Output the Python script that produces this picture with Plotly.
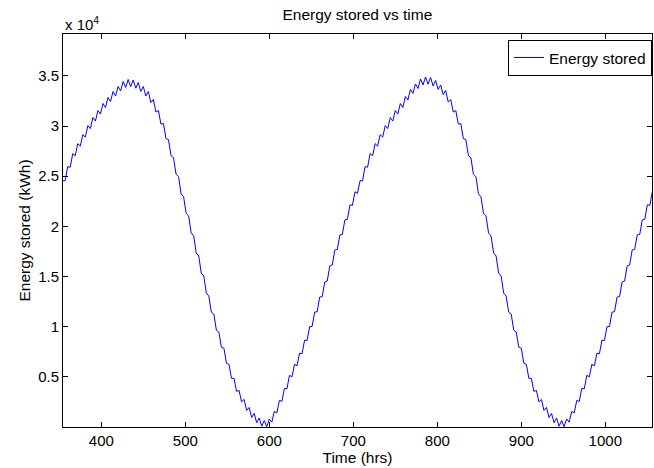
import plotly.graph_objects as go

# Sample times (hours), 3-hour spacing
hours = list(range(354, 1057, 3))

# Energy stored (kWh)
energy_stored = [
    # 354 - 705
    24550, 24550, 25950, 25900, 27250, 27050, 28250, 28000, 29150, 28900,
    30050, 29750, 30850, 30500, 31550, 31200, 32250, 31850, 32850, 32450,
    33450, 33000, 33950, 33500, 34450, 33850, 34650, 33925, 34600, 33775,
    34350, 33450, 33950, 33000, 33450, 32350, 32650, 31400, 31550, 30200,
    30250, 28750, 28650, 27050, 26850, 25200, 24950, 23250, 22950, 21300,
    21050, 19350, 19050, 17350, 17050, 15350, 15050, 13350, 13050, 11450,
    11250, 9650, 9450, 7950, 7850, 6350, 6250, 4850, 4850, 3550,
    3650, 2500, 2750, 1650, 1950, 950, 1350, 425, 900, 75,
    650, 25, 800, 475, 1550, 1400, 2650, 2550, 3850, 3800,
    5150, 5000, 6250, 6100, 7350, 7300, 8650, 8625, 10000, 10025,
    11450, 11500, 12950, 13000, 14450, 14550, 16050, 16150, 17650, 17700,
    19150, 19200, 20650, 20700, 22150, 22100, 23450, 23300,
    # 708 - 1056
    24550, 24550, 25950, 25900, 27250, 27050, 28250, 28000, 29150, 28900,
    30050, 29750, 30850, 30500, 31550, 31200, 32250, 31850, 32950, 32600,
    33650, 33250, 34200, 33750, 34700, 34100, 34900, 34175, 34850, 34000,
    34550, 33650, 34100, 33150, 33550, 32400, 32650, 31400, 31550, 30200,
    30250, 28750, 28650, 27050, 26850, 25200, 24950, 23250, 22950, 21300,
    21050, 19350, 19050, 17350, 17050, 15350, 15050, 13350, 13050, 11450,
    11250, 9650, 9450, 7950, 7850, 6350, 6250, 4850, 4850, 3550,
    3650, 2500, 2750, 1650, 1950, 950, 1350, 425, 900, 75,
    650, 25, 800, 475, 1550, 1400, 2650, 2550, 3850, 3800,
    5150, 5000, 6250, 6100, 7350, 7300, 8650, 8625, 10000, 10025,
    11450, 11500, 12950, 13000, 14450, 14550, 16050, 16150, 17650, 17700,
    19150, 19200, 20650, 20700, 22150, 22100, 23450,
]

x_ticks = [400, 500, 600, 700, 800, 900, 1000]
y_ticks = [5000, 10000, 15000, 20000, 25000, 30000, 35000]
y_tick_labels = ["0.5", "1", "1.5", "2", "2.5", "3", "3.5"]

FONT = "Liberation Sans, Arial, Helvetica, sans-serif"

fig = go.Figure()
fig.add_trace(go.Scatter(
    x=hours, y=energy_stored, mode="lines", name="Energy stored",
    line=dict(color="#0000ff", width=1),
))

axis_common = dict(
    showline=True, linecolor="black", linewidth=1, mirror="ticks",
    ticks="inside", ticklen=5, tickwidth=1, tickcolor="black",
    showgrid=False, zeroline=False,
    tickfont=dict(family=FONT, size=15, color="black"),
)

fig.update_layout(
    width=654, height=468,
    paper_bgcolor="white", plot_bgcolor="white",
    margin=dict(l=63, r=2, t=34, b=41),
    font=dict(family=FONT, size=15, color="black"),
    title=dict(text="Energy stored vs time", x=0.5465, xanchor="center",
               y=0.98, yanchor="top", font=dict(family=FONT, size=15.5, color="black")),
    xaxis=dict(range=[354.4, 1055.6], tickvals=x_ticks,
               title=dict(text="Time (hrs)", standoff=3,
                          font=dict(family=FONT, size=15.5, color="black")),
               **axis_common),
    yaxis=dict(range=[0, 39180], tickvals=y_ticks, ticktext=y_tick_labels,
               title=dict(text="Energy stored (kWh)", standoff=3,
                          font=dict(family=FONT, size=15.5, color="black")),
               **axis_common),
    showlegend=True,
    legend=dict(x=1.0, xanchor="right", y=0.985, yanchor="top",
                bgcolor="white", bordercolor="black", borderwidth=1,
                font=dict(family=FONT, size=15.5, color="black"),
                tracegroupgap=0),
    annotations=[dict(text="x 10<sup>4</sup>", xref="paper", yref="paper",
                      x=0, y=1, xanchor="left", yanchor="bottom", yshift=-1,
                      showarrow=False,
                      font=dict(family=FONT, size=15, color="black"))],
)

# Remove the default page margin so the 654x468 figure fills the window.
fig.write_html(
    "out.html",
    config={"displayModeBar": False},
    post_script="document.body.style.margin='0px';document.body.style.overflow='hidden';",
)
